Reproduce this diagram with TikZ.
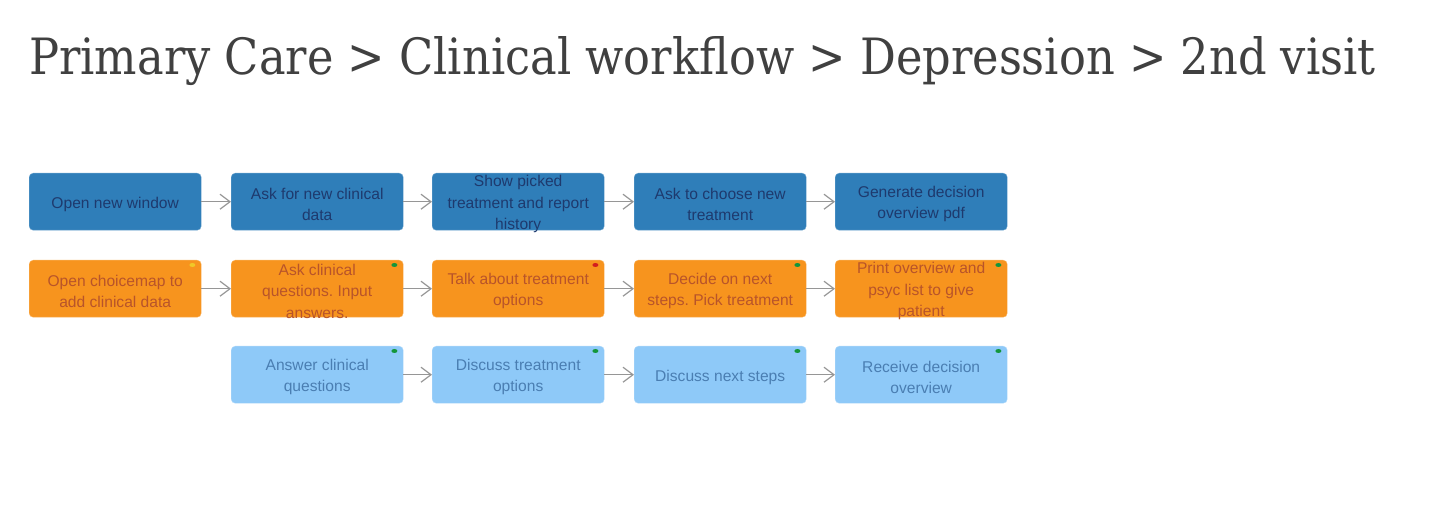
\documentclass[tikz,border=0pt]{standalone}
\usepackage{fontspec}
\setmainfont{Liberation Sans}
\newfontfamily\titlefont{DejaVu Serif}
\usetikzlibrary{arrows.meta,shapes.geometric}
\frenchspacing
\definecolor{bluebox}{RGB}{47,126,185}
\definecolor{bluetext}{RGB}{30,58,110}
\definecolor{orangebox}{RGB}{247,148,30}
\definecolor{orangetext}{RGB}{184,84,42}
\definecolor{lightbox}{RGB}{142,201,248}
\definecolor{lighttext}{RGB}{74,126,178}
\definecolor{titlegray}{RGB}{64,64,64}
\definecolor{arrowgray}{RGB}{150,150,150}
\definecolor{dotgreen}{RGB}{20,150,60}
\definecolor{dotred}{RGB}{210,30,30}
\definecolor{dotyellow}{RGB}{240,200,40}
\begin{document}
\begin{tikzpicture}[x=1pt,y=-1pt,
  box/.style={rectangle,rounded corners=4pt,minimum width=172pt,minimum height=57pt,inner sep=0pt,anchor=north west},
  txt/.style={font=\fontsize{15.6}{21.5}\selectfont\frenchspacing,align=center,yshift=-2.5pt},
  bluestep/.style={box,fill=bluebox,draw=bluebox!70!white,line width=0.4pt},
  orangestep/.style={box,fill=orangebox,draw=orangebox!70!white,line width=0.4pt},
  lightstep/.style={box,fill=lightbox,draw=lightbox!70!white,line width=0.4pt},
  bt/.style={txt,text=bluetext},
  ot/.style={txt,text=orangetext},
  lt/.style={txt,text=lighttext},
  flow/.style={draw=arrowgray,line width=1.2pt,-{Straight Barb[length=10pt,width=15pt,line width=1.2pt]}},
  dot/.style={ellipse,minimum width=6pt,minimum height=4pt,inner sep=0pt},
]
\useasboundingbox (0,0) rectangle (1440,518);
\node[anchor=base west,inner sep=0pt,text=titlegray] (title) at (29,75)
  {\resizebox{1346pt}{38pt}{\titlefont Primary Care > Clinical workflow > Depression > 2nd visit}};

% row 1
\node[bluestep,label={[bt]center:Open new window}] (b1) at (29,173) {};
\node[bluestep,label={[bt]center:Ask for new clinical\\data}] (b2) at (231,173) {};
\node[bluestep,label={[bt]center:Show picked\\treatment and report\\history}] (b3) at (432,173) {};
\node[bluestep,label={[bt]center:Ask to choose new\\treatment}] (b4) at (634,173) {};
\node[bluestep,label={[bt]center:Generate decision\\overview pdf}] (b5) at (835,173) {};

% row 2
\node[orangestep,label={[ot]center:Open choicemap to\\add clinical data}] (o1) at (29,260) {};
\node[orangestep,label={[ot]center:Ask clinical\\questions. Input\\answers.}] (o2) at (231,260) {};
\node[orangestep,label={[ot]center:Talk about treatment\\options}] (o3) at (432,260) {};
\node[orangestep,label={[ot]center:Decide on next\\steps. Pick treatment}] (o4) at (634,260) {};
\node[orangestep,label={[ot]center:Print overview and\\psyc list to give\\patient}] (o5) at (835,260) {};

% row 3
\node[lightstep,label={[lt]center:Answer clinical\\questions}] (l2) at (231,346) {};
\node[lightstep,label={[lt]center:Discuss treatment\\options}] (l3) at (432,346) {};
\node[lightstep,label={[lt]center:Discuss next steps}] (l4) at (634,346) {};
\node[lightstep,label={[lt]center:Receive decision\\overview}] (l5) at (835,346) {};

% status dots
\node[dot,fill=dotyellow] (d1) at ([xshift=-9pt,yshift=-5pt]o1.north east) {};
\node[dot,fill=dotgreen] (d2) at ([xshift=-9pt,yshift=-5pt]o2.north east) {};
\node[dot,fill=dotred] (d3) at ([xshift=-9pt,yshift=-5pt]o3.north east) {};
\node[dot,fill=dotgreen] (d4) at ([xshift=-9pt,yshift=-5pt]o4.north east) {};
\node[dot,fill=dotgreen] (d5) at ([xshift=-9pt,yshift=-5pt]o5.north east) {};
\node[dot,fill=dotgreen] (e2) at ([xshift=-9pt,yshift=-5pt]l2.north east) {};
\node[dot,fill=dotgreen] (e3) at ([xshift=-9pt,yshift=-5pt]l3.north east) {};
\node[dot,fill=dotgreen] (e4) at ([xshift=-9pt,yshift=-5pt]l4.north east) {};
\node[dot,fill=dotgreen] (e5) at ([xshift=-9pt,yshift=-5pt]l5.north east) {};

% connectors
\foreach \a/\b in {b1/b2,b2/b3,b3/b4,b4/b5,o1/o2,o2/o3,o3/o4,o4/o5,l2/l3,l3/l4,l4/l5}
  \draw[flow] (\a.east) -- (\b.west);
\end{tikzpicture}
\end{document}
